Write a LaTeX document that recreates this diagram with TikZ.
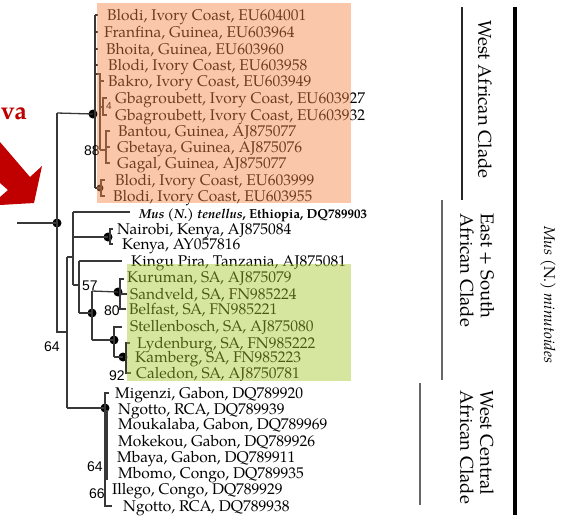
\documentclass[tikz,border=0pt]{standalone}
\usepackage{fontspec}
\setmainfont{TeX Gyre Pagella}
\newfontfamily\numfont{Liberation Sans}
\definecolor{treeline}{HTML}{383838}
\definecolor{arrowred}{HTML}{C00000}
\definecolor{orangehl}{RGB}{245,133,67}
\definecolor{greenhl}{RGB}{167,200,44}
\newcommand\tiplab[4]{\node[lab] (#1) at (#2,#3+5) {#4};}
\begin{document}
\begin{tikzpicture}[x=1pt,y=-1pt,
  br/.style={draw=treeline, line width=1.3pt},
  lab/.style={inner sep=0pt, font=\fontsize{15.5}{15.5}\selectfont, anchor=base west},
  num/.style={inner sep=0pt, font=\numfont\fontsize{14}{14}\selectfont},
  tdot/.style={circle, fill=black, inner sep=0pt, minimum size=9pt},
  sdot/.style={circle, fill=black, inner sep=0pt, minimum size=7pt},
  clade/.style={inner sep=0pt, font=\fontsize{18.5}{18.5}\selectfont, rotate=-90, anchor=west},
  bar/.style={line width=1.1pt}]
\useasboundingbox (0,0) rectangle (564,515);
\fill[white] (0,0) rectangle (564,515);

% red arrow and text at the left edge
\fill[arrowred] (0,142) -- (30,177) -- (42,166) -- (34,203) -- (0,205) -- (0,197) -- (8,190) -- (0,183) -- cycle;
\node[inner sep=0pt, anchor=base east, text=arrowred, font=\bfseries\fontsize{25}{25}\selectfont] (va) at (27,119) {va};

% ---------------- tree: root
\coordinate (stem) at (17,223);
\node[tdot] (root) at (57,223) {};
\draw[br] (stem) -- (root.center);
\draw[br] (57,113) -- (57,332) -- (67,332);
\node[num] (b64a) at (52,347) {64};

% ---------------- West African clade
\node[tdot] (wa) at (93,114) {};
\draw[br] (57,113) -- (wa.center);
\draw[br] (95,15) -- (95,188);
\foreach \yy in {15,32,49,65} \draw[br] (95,\yy) -- (98,\yy);
\draw[br] (95,74) -- (100,74) -- (100,150);
\draw[br] (100,81) -- (104,81);
\draw[br] (100,107) -- (103,107);
\draw[br] (107,98) -- (103,98) -- (103,115) -- (107,115);
\node[inner sep=0pt, font=\numfont\fontsize{10}{10}\selectfont] (b4) at (109,106) {4};
\draw[br] (100,150) -- (106,150);
\draw[br] (110,131) -- (106,131) -- (106,163) -- (110,163);
\draw[br] (106,147) -- (110,147);
\node[num] (b88) at (92,151) {88};
\node[sdot] (wab) at (100,188) {};
\draw[br] (95,188) -- (wab.center);
\draw[br] (105,180) -- (101,180) -- (101,196) -- (105,196);

\tiplab{t1}{107}{15}{Blodi, Ivory Coast, EU604001}
\tiplab{t2}{104}{32}{Franfina, Guinea, EU603964}
\tiplab{t3}{106}{49}{Bhoita, Guinea, EU603960}
\tiplab{t4}{108}{65}{Blodi, Ivory Coast, EU603958}
\tiplab{t5}{108}{81}{Bakro, Ivory Coast, EU603949}
\tiplab{t6}{115}{98}{Gbagroubett, Ivory Coast, EU603927}
\tiplab{t7}{115}{115}{Gbagroubett, Ivory Coast, EU603932}
\tiplab{t8}{118}{131}{Bantou, Guinea, AJ875077}
\tiplab{t9}{117}{147}{Gbetaya, Guinea, AJ875076}
\tiplab{t10}{117}{163}{Gagal, Guinea, AJ875077}
\tiplab{t11}{115}{180}{Blodi, Ivory Coast, EU603999}
\tiplab{t12}{113}{196}{Blodi, Ivory Coast, EU603955}

% ---------------- East + South African clade
\draw[br] (67,257) -- (67,408);
\draw[br] (67,257) -- (73,257);
\draw[br] (73,212) -- (73,285);
\draw[br] (73,212) -- (130,212);
\node[tdot] (ken) at (108,237) {};
\draw[br] (73,237) -- (ken.center);
\draw[br] (113,229) -- (110,229) -- (110,244) -- (113,244);
\draw[br] (73,285) -- (79,285);
\draw[br] (79,261) -- (79,313);
\draw[br] (79,261) -- (122,261);
\node[tdot] (n57) at (92,313) {};
\draw[br] (79,313) -- (n57.center);
\node[num] (b57) at (90,286) {57};
\draw[br] (92,291) -- (92,340);
\node[tdot] (n80) at (118,292) {};
\draw[br] (92,291) -- (n80.center);
\draw[br] (124,279) -- (120,279) -- (120,309) -- (126,309);
\draw[br] (120,294) -- (127,294);
\node[num] (b80) at (112,311) {80};
\node[tdot] (nst) at (114,340) {};
\draw[br] (92,340) -- (nst.center);
\draw[br] (122,327) -- (114,327) -- (114,357);
\node[tdot] (n92) at (123,357) {};
\draw[br] (114,357) -- (n92.center);
\draw[br] (130,343) -- (126,343) -- (126,373) -- (131,373);
\node[num] (b92) at (117,376) {92};

\node[lab, font=\bfseries\fontsize{13}{13}\selectfont] (t13) at (139,213+5) {\textit{Mus (N.) tenellus}, Ethiopia, DQ789903};
\tiplab{t14}{117}{229}{Nairobi, Kenya, AJ875084}
\tiplab{t15}{122}{244}{Kenya, AY057816}
\tiplab{t16}{131}{261}{Kingu Pira, Tanzania, AJ875081}
\tiplab{t17}{127}{277}{Kuruman, SA, AJ875079}
\tiplab{t18}{130}{294}{Sandveld, SA, FN985224}
\tiplab{t19}{129}{309}{Belfast, SA, FN985221}
\tiplab{t20}{130}{326}{Stellenbosch, SA, AJ875080}
\tiplab{t21}{137}{343}{Lydenburg, SA, FN985222}
\tiplab{t22}{135}{357}{Kamberg, SA, FN985223}
\tiplab{t23}{136}{373}{Caledon, SA, AJ8750781}

% ---------------- West Central African clade
\node[tdot] (wc) at (105,408) {};
\draw[br] (67,408) -- (wc.center);
\draw[br] (109,393) -- (105,393) -- (105,506) -- (112,506);
\draw[treeline, line width=2.2pt] (106.5,410) -- (106.5,480);
\foreach \yy in {441,457,473} \draw[br] (105,\yy) -- (108,\yy);
\node[num] (b64b) at (95,467) {64};
\node[num] (b66) at (97,494) {66};
\tiplab{t24}{115}{393}{Migenzi, Gabon, DQ789920}
\tiplab{t25}{118}{409}{Ngotto, RCA, DQ789939}
\tiplab{t26}{118}{424}{Moukalaba, Gabon, DQ789969}
\tiplab{t27}{118}{441}{Mokekou, Gabon, DQ789926}
\tiplab{t28}{117}{457}{Mbaya, Gabon, DQ789911}
\tiplab{t29}{118}{473}{Mbomo, Congo, DQ789935}
\tiplab{t30}{112}{489}{Illego, Congo, DQ789929}
\tiplab{t31}{123}{506}{Ngotto, RCA, DQ789938}

% ---------------- highlight overlays
\fill[orangehl, fill opacity=0.45] (97,3) rectangle (351,203);
\fill[greenhl, fill opacity=0.45] (127,264) rectangle (351,381);

% ---------------- clade annotations
\draw[line width=4pt, black] (515,7) -- (515,515);
\draw[bar, black!85] (462,7) -- (462,200);
\draw[bar, black!60] (442,200) -- (442,380);
\draw[bar, black!60] (420,383) -- (420,505);
\node[clade] (cwa) at (485,20) {West African Clade};
\node[clade] (ces1) at (487,213) {East + South};
\node[clade] (ces2) at (467,213) {African Clade};
\node[clade] (cwc1) at (487,390) {West Central};
\node[clade] (cwc2) at (467,390) {African Clade};
\node[clade, font=\fontsize{15.5}{15.5}\selectfont] (cmin) at (548,226) {\textit{Mus} (N.) \textit{minutoides}};
\end{tikzpicture}
\end{document}
